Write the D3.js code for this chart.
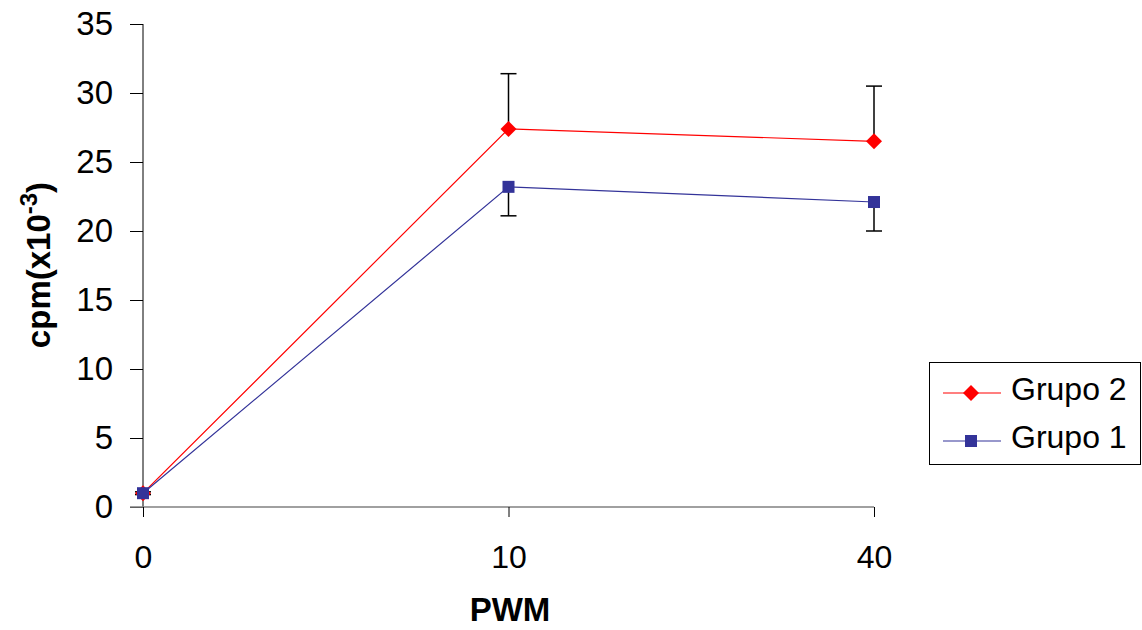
<!DOCTYPE html>
<html><head><meta charset="utf-8">
<script src="https://cdn.jsdelivr.net/npm/d3@7"></script>
<style>body{margin:0;background:#fff}svg{display:block;font-family:"Liberation Sans",Arial,sans-serif}</style>
</head><body><svg id="c" width="1142" height="630"></svg>
<script>
const categories = ["0", "10", "40"];
const grupo2 = [1.0, 27.4, 26.5];
const grupo2Err = [0.1, 4.0, 4.0];
const grupo1 = [1.0, 23.2, 22.1];
const grupo1Err = [0.1, 2.1, 2.1];
const yTicks = [0, 5, 10, 15, 20, 25, 30, 35];

const svg = d3.select("#c");
const x = d3.scalePoint().domain(categories).range([143, 874]);
const y = d3.scaleLinear().domain([0, 35]).range([507, 24]);

// y axis
const yAxis = svg.append("g").attr("transform", "translate(143,0)")
  .call(d3.axisLeft(y).tickValues(yTicks).tickSize(13).tickPadding(17));
yAxis.select(".domain").attr("stroke", "#000").attr("d", "M0,24V507");
yAxis.selectAll(".tick line").attr("stroke", "#000");
yAxis.selectAll(".tick text").attr("font-size", 33).attr("fill", "#000").attr("font-family", "Liberation Sans, Arial, sans-serif");

// x axis
const xAxis = svg.append("g").attr("transform", "translate(0,507)")
  .call(d3.axisBottom(x).tickSize(10).tickPadding(28));
xAxis.select(".domain").attr("stroke", "#808080").attr("stroke-width", 1.5).attr("d", "M130,0H874");
xAxis.selectAll(".tick line").attr("stroke", "#000");
xAxis.selectAll(".tick text").attr("font-size", 32).attr("fill", "#000").attr("font-family", "Liberation Sans, Arial, sans-serif");

// titles
svg.append("text").attr("transform", "translate(50,265) rotate(-90)")
  .attr("text-anchor", "middle").attr("font-weight", "bold").attr("font-size", 33)
  .html('cpm(x10<tspan dy="-13" font-size="24">-3</tspan><tspan dy="13">)</tspan>');
svg.append("text").attr("x", 510).attr("y", 621).attr("text-anchor", "middle")
  .attr("font-weight", "bold").attr("font-size", 33).text("PWM");

const series = [
  {vals: grupo1, err: grupo1Err, dir: 1, color: "#333399", shape: "square"},
  {vals: grupo2, err: grupo2Err, dir: -1, color: "#FF0000", shape: "diamond"}
];

const line = d3.line().x((d, i) => x(categories[i])).y(d => y(d));

// error bars
series.forEach(s => {
  const g = svg.append("g").attr("stroke", "#000").attr("stroke-width", 1.5);
  s.vals.forEach((v, i) => {
    const cx = x(categories[i]);
    const end = s.dir < 0 ? v + s.err[i] : v - s.err[i];
    g.append("line").attr("x1", cx).attr("x2", cx).attr("y1", y(v)).attr("y2", y(end));
    g.append("line").attr("x1", cx - 8).attr("x2", cx + 8).attr("y1", y(end)).attr("y2", y(end));
  });
});

function marker(g, shape, color, cx, cy) {
  if (shape === "square") {
    g.append("rect").attr("x", cx - 6).attr("y", cy - 6).attr("width", 12).attr("height", 12).attr("fill", color);
  } else {
    g.append("path").attr("d", `M${cx},${cy-8}L${cx+8},${cy}L${cx},${cy+8}L${cx-8},${cy}Z`).attr("fill", color);
  }
}

series.slice().reverse().forEach(s => {
  svg.append("path").datum(s.vals).attr("d", line).attr("fill", "none")
    .attr("stroke", s.color).attr("stroke-width", 1.2);
});
series.slice().reverse().forEach(s => {
  const g = svg.append("g");
  s.vals.forEach((v, i) => marker(g, s.shape, s.color, x(categories[i]), y(v)));
});

// legend
const lg = svg.append("g");
lg.append("rect").attr("x", 929.5).attr("y", 362.5).attr("width", 211).attr("height", 102)
  .attr("fill", "#fff").attr("stroke", "#000").attr("stroke-width", 1);
const legendItems = [
  {name: "Grupo 2", color: "#FF0000", shape: "diamond", yy: 393},
  {name: "Grupo 1", color: "#333399", shape: "square", yy: 441}
];
legendItems.forEach(it => {
  lg.append("line").attr("x1", 943).attr("x2", 1001).attr("y1", it.yy).attr("y2", it.yy)
    .attr("stroke", it.color).attr("stroke-width", 1.2);
  marker(lg, it.shape, it.color, 971, it.yy);
  lg.append("text").attr("x", 1011).attr("y", it.yy + 7).attr("font-size", 32).text(it.name);
});
</script></body></html>
